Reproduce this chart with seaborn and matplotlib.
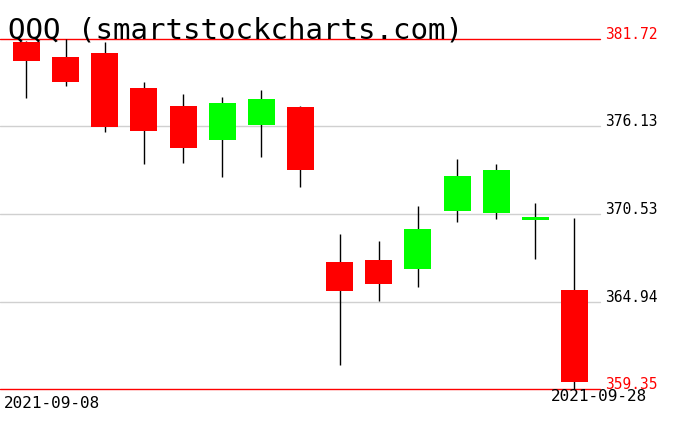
import numpy as np
import pandas as pd
import matplotlib
matplotlib.use("Agg")
import matplotlib.pyplot as plt
import seaborn as sns

# daily QQQ candles
dates = ["2021-09-08", "2021-09-09", "2021-09-10", "2021-09-13", "2021-09-14",
         "2021-09-15", "2021-09-16", "2021-09-17", "2021-09-20", "2021-09-21",
         "2021-09-22", "2021-09-23", "2021-09-24", "2021-09-27", "2021-09-28"]
opens = [381.55, 380.57, 380.83, 378.59, 377.44, 375.28, 376.24, 377.37,
         367.47, 367.60, 367.04, 370.75, 370.62, 370.17, 365.68]
closes = [380.33, 378.99, 376.11, 375.86, 374.77, 377.63, 377.88, 373.37,
          365.63, 366.08, 369.58, 372.96, 373.35, 370.34, 359.82]
highs = [381.60, 381.72, 381.55, 378.97, 378.19, 378.01, 378.46, 377.44,
         369.26, 368.83, 371.05, 374.05, 373.73, 371.26, 370.28]
lows = [377.97, 378.74, 375.80, 373.75, 373.81, 372.92, 374.20, 372.28,
        360.90, 364.97, 365.89, 370.04, 370.24, 367.68, 359.35]
levels = [381.72, 376.13, 370.53, 364.94, 359.35]

df = pd.DataFrame({"date": dates, "open": opens, "close": closes,
                   "high": highs, "low": lows})
df["x"] = np.arange(len(df))
df["up"] = df["close"] >= df["open"]

sns.set_theme(style="white")
plt.rcParams["font.family"] = ["DejaVu Sans Mono", "DejaVu Sans"]

fig = plt.figure(figsize=(6.76, 4.31), dpi=100)
ax = fig.add_axes([0, 41 / 431, 600 / 676, 350 / 431])

lo, hi = min(levels), max(levels)
for lv in levels:
    col = "red" if lv in (lo, hi) else "#d0d0d0"
    ax.axhline(lv, color=col, lw=1, zorder=1, clip_on=False)

# wicks then bodies
ax.vlines(df["x"], df["low"], df["high"], color="black", lw=1, zorder=2)
body_bottom = np.minimum(df["open"], df["close"])
body_h = np.maximum(np.abs(df["close"] - df["open"]), 0.15)
colors = np.where(df["up"], "#00ff00", "#ff0000")
ax.bar(df["x"], body_h, bottom=body_bottom, width=0.69, color=colors,
       edgecolor="none", zorder=3)

ax.set_xlim(-0.677, 14.653)
ax.set_ylim(lo, hi)
ax.set_xticks([])
ax.set_yticks([])
sns.despine(ax=ax, left=True, bottom=True)

for lv in levels:
    col = "red" if lv in (lo, hi) else "black"
    y = (41 + (lv - lo) / (hi - lo) * 350) / 431
    fig.text(605 / 676, y + 1 / 431, f"{lv:.2f}", color=col, fontsize=10.5,
             ha="left", va="baseline")

fig.text(4 / 676, 1 - 408 / 431, df["date"].iloc[0], fontsize=11.5,
         ha="left", va="baseline", color="black")
fig.text(647 / 676, 1 - 401 / 431, df["date"].iloc[-1], fontsize=11.5,
         ha="right", va="baseline", color="black")

fig.text(8 / 676, 1 - 38 / 431, "QQQ (smartstockcharts.com)", fontsize=21,
         ha="left", va="baseline", color="black")

fig.savefig("out.png", dpi=100)
